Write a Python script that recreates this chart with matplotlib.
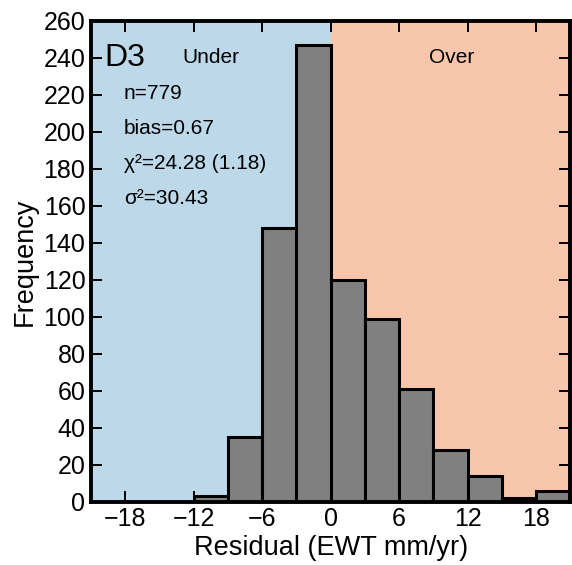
import matplotlib
matplotlib.use("Agg")
import matplotlib.pyplot as plt

plt.rcParams['font.family'] = ['Liberation Sans', 'DejaVu Sans']

# histogram bins (left edges, width 3) and counts
bin_left = [-12, -9, -6, -3, 0, 3, 6, 9, 12, 15, 18]
counts = [3, 35, 148, 247, 120, 99, 61, 28, 14, 2, 6]
bin_width = 3

x_ticks = [-18, -12, -6, 0, 6, 12, 18]
y_ticks = list(range(0, 261, 20))

stats = ["n=779", "bias=0.67", "χ²=24.28 (1.18)", "σ²=30.43"]

fig = plt.figure(figsize=(5.72, 5.65), dpi=100)
ax = fig.add_axes([0.159, 0.112, 0.838, 0.851])

# under / over shading
ax.axvspan(-21, 0, color='#bcd8e9', zorder=0, lw=0)
ax.axvspan(0, 21, color='#f8c6aa', zorder=0, lw=0)

ax.bar(bin_left, counts, width=bin_width, align='edge',
       color='#808080', edgecolor='black', linewidth=2.2, zorder=2)

ax.set_xlim(-21, 21)
ax.set_ylim(0, 260)
ax.set_xticks(x_ticks)
ax.set_yticks(y_ticks)
ax.tick_params(direction='in', length=8, width=1.4, top=True, right=True,
               labelsize=18, pad=4)
ax.set_xlabel("Residual (EWT mm/yr)", fontsize=19.5, labelpad=3)
ax.set_ylabel("Frequency", fontsize=19.5, labelpad=4)
for s in ax.spines.values():
    s.set_linewidth(2.8)
    s.set_zorder(5)

ax.text(-19.8, 240, "D3", fontsize=23, va='center', ha='left', zorder=4)
ax.text(-10.5, 240, "Under", fontsize=15, va='center', ha='center', zorder=4)
ax.text(10.6, 240, "Over", fontsize=15, va='center', ha='center', zorder=4)
for i, s in enumerate(stats):
    ax.text(-18.1, 221 - i * 19, s, fontsize=15, va='center', ha='left', zorder=4)

fig.savefig("out.png", dpi=100)
